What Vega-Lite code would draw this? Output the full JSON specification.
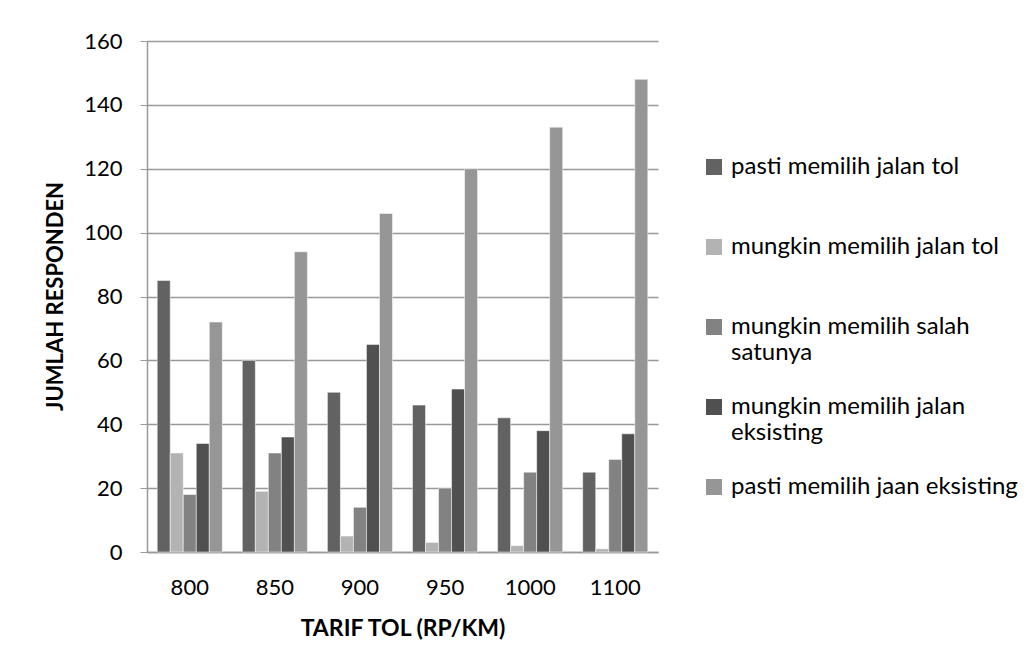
{
  "$schema": "https://vega.github.io/schema/vega-lite/v6.json",
  "autosize": "none",
  "width": 511,
  "height": 511,
  "padding": {"left": 147, "top": 41, "right": 377, "bottom": 118},
  "background": "white",
  "config": {
    "font": "Lato",
    "view": {"stroke": null}
  },
  "data": {
    "values": [
      {"tarif": "800", "kategori": "pasti memilih jalan tol", "jumlah": 85},
      {"tarif": "800", "kategori": "mungkin memilih jalan tol", "jumlah": 31},
      {"tarif": "800", "kategori": "mungkin memilih salah satunya", "jumlah": 18},
      {"tarif": "800", "kategori": "mungkin memilih jalan eksisting", "jumlah": 34},
      {"tarif": "800", "kategori": "pasti memilih jaan eksisting", "jumlah": 72},
      {"tarif": "850", "kategori": "pasti memilih jalan tol", "jumlah": 60},
      {"tarif": "850", "kategori": "mungkin memilih jalan tol", "jumlah": 19},
      {"tarif": "850", "kategori": "mungkin memilih salah satunya", "jumlah": 31},
      {"tarif": "850", "kategori": "mungkin memilih jalan eksisting", "jumlah": 36},
      {"tarif": "850", "kategori": "pasti memilih jaan eksisting", "jumlah": 94},
      {"tarif": "900", "kategori": "pasti memilih jalan tol", "jumlah": 50},
      {"tarif": "900", "kategori": "mungkin memilih jalan tol", "jumlah": 5},
      {"tarif": "900", "kategori": "mungkin memilih salah satunya", "jumlah": 14},
      {"tarif": "900", "kategori": "mungkin memilih jalan eksisting", "jumlah": 65},
      {"tarif": "900", "kategori": "pasti memilih jaan eksisting", "jumlah": 106},
      {"tarif": "950", "kategori": "pasti memilih jalan tol", "jumlah": 46},
      {"tarif": "950", "kategori": "mungkin memilih jalan tol", "jumlah": 3},
      {"tarif": "950", "kategori": "mungkin memilih salah satunya", "jumlah": 20},
      {"tarif": "950", "kategori": "mungkin memilih jalan eksisting", "jumlah": 51},
      {"tarif": "950", "kategori": "pasti memilih jaan eksisting", "jumlah": 120},
      {"tarif": "1000", "kategori": "pasti memilih jalan tol", "jumlah": 42},
      {"tarif": "1000", "kategori": "mungkin memilih jalan tol", "jumlah": 2},
      {"tarif": "1000", "kategori": "mungkin memilih salah satunya", "jumlah": 25},
      {"tarif": "1000", "kategori": "mungkin memilih jalan eksisting", "jumlah": 38},
      {"tarif": "1000", "kategori": "pasti memilih jaan eksisting", "jumlah": 133},
      {"tarif": "1100", "kategori": "pasti memilih jalan tol", "jumlah": 25},
      {"tarif": "1100", "kategori": "mungkin memilih jalan tol", "jumlah": 1},
      {"tarif": "1100", "kategori": "mungkin memilih salah satunya", "jumlah": 29},
      {"tarif": "1100", "kategori": "mungkin memilih jalan eksisting", "jumlah": 37},
      {"tarif": "1100", "kategori": "pasti memilih jaan eksisting", "jumlah": 148}
    ]
  },
  "mark": {"type": "bar", "stroke": "white", "strokeWidth": 0.5},
  "encoding": {
    "x": {
      "field": "tarif",
      "type": "nominal",
      "sort": ["800", "850", "900", "950", "1000", "1100"],
      "scale": {"paddingInner": 0.235, "paddingOuter": 0.12},
      "axis": {
        "title": "TARIF TOL (RP/KM)",
        "titleFontSize": 23,
        "titleFontWeight": "bold",
        "titleColor": "black",
        "titleY": 76,
        "titleBaseline": "middle",
        "labelAngle": 0,
        "labelFontSize": 22,
        "labelColor": "black",
        "labelPadding": 25,
        "ticks": false,
        "domainColor": "#999999",
        "domainWidth": 1.5
      }
    },
    "xOffset": {
      "field": "kategori",
      "type": "nominal",
      "sort": ["pasti memilih jalan tol", "mungkin memilih jalan tol", "mungkin memilih salah satunya", "mungkin memilih jalan eksisting", "pasti memilih jaan eksisting"],
      "scale": {"paddingInner": 0, "paddingOuter": 0}
    },
    "y": {
      "field": "jumlah",
      "type": "quantitative",
      "scale": {"domain": [0, 160], "nice": false},
      "axis": {
        "title": "JUMLAH RESPONDEN",
        "titleFontSize": 22,
        "titleFontWeight": "bold",
        "titleColor": "black",
        "titleX": -92,
        "titleY": 255,
        "titleAngle": -90,
        "titleAnchor": "middle",
        "titleBaseline": "middle",
        "values": [0, 20, 40, 60, 80, 100, 120, 140, 160],
        "labelFontSize": 22,
        "labelColor": "black",
        "labelPadding": 18,
        "tickSize": 7,
        "tickColor": "#999999",
        "domainColor": "#999999",
        "domainWidth": 1.5,
        "grid": true,
        "gridColor": "#999999",
        "gridWidth": 1.5
      }
    },
    "color": {
      "field": "kategori",
      "type": "nominal",
      "sort": ["pasti memilih jalan tol", "mungkin memilih jalan tol", "mungkin memilih salah satunya", "mungkin memilih jalan eksisting", "pasti memilih jaan eksisting"],
      "scale": {
        "domain": ["pasti memilih jalan tol", "mungkin memilih jalan tol", "mungkin memilih salah satunya", "mungkin memilih jalan eksisting", "pasti memilih jaan eksisting"],
        "range": ["#626262", "#b3b3b3", "#828282", "#505050", "#969696"]
      },
      "legend": {
        "title": null,
        "orient": "none",
        "legendX": 555,
        "legendY": 114,
        "symbolType": "square",
        "symbolSize": 256,
        "symbolStrokeWidth": 0,
        "labelFontSize": 24,
        "labelColor": "black",
        "labelLimit": 400,
        "labelOffset": 5,
        "gridAlign": "all",
        "rowPadding": 30,
        "labelExpr": "datum.label == 'mungkin memilih salah satunya' ? ['mungkin memilih salah', 'satunya'] : datum.label == 'mungkin memilih jalan eksisting' ? ['mungkin memilih jalan', 'eksisting'] : datum.label"
      }
    }
  }
}
